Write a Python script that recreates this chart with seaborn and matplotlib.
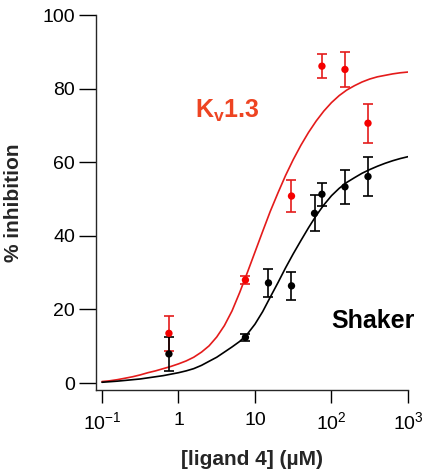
import numpy
import seaborn
import pandas
import matplotlib.pyplot as plt
from matplotlib.ticker import FixedLocator, FixedFormatter, NullLocator

# measured points (concentration in uM, % inhibition, error)
shaker_conc = [0.75, 7.5, 15, 30, 60, 75, 150, 300]
shaker_inhib = [7.9, 12.4, 27.2, 26.4, 46.1, 51.3, 53.3, 56.1]
shaker_err = [4.6, 1.0, 3.7, 3.9, 4.9, 3.1, 4.7, 5.3]

kv_conc = [0.75, 7.5, 30, 75, 150, 300]
kv_inhib = [13.5, 28.0, 50.8, 86.1, 85.2, 70.6]
kv_err = [4.7, 1.0, 4.4, 3.2, 4.8, 5.3]

# fitted curves
curve_conc = [0.1, 0.126, 0.158, 0.2, 0.251, 0.316, 0.398, 0.501, 0.631, 0.794,
              1, 1.26, 1.58, 2.0, 2.51, 3.16, 3.98, 5.01, 6.31, 7.94,
              10, 12.6, 15.8, 20.0, 25.1, 31.6, 39.8, 50.1, 63.1, 79.4,
              100, 126, 158, 200, 251, 316, 398, 501, 631, 794, 1000]
kv_curve = [0.4, 0.6, 0.9, 1.3, 1.7, 2.2, 2.8, 3.3, 3.9, 4.5,
            5.2, 6.0, 7.0, 8.4, 10.1, 12.5, 15.6, 19.6, 24.6, 30.0,
            35.6, 41.2, 46.6, 51.7, 56.4, 60.7, 64.6, 68.1, 71.2, 73.9,
            76.2, 78.1, 79.6, 80.8, 81.8, 82.6, 83.2, 83.6, 84.0, 84.3, 84.5]
shaker_curve = [0.2, 0.35, 0.5, 0.7, 0.9, 1.1, 1.4, 1.7, 2.0, 2.4,
                2.8, 3.3, 3.9, 4.8, 5.9, 7.0, 8.4, 9.8, 11.3, 13.3,
                16.0, 19.4, 23.3, 27.3, 31.3, 35.1, 38.7, 42.2, 45.5, 48.4,
                50.9, 52.9, 54.5, 55.8, 57.0, 58.0, 58.9, 59.7, 60.4, 61.0, 61.5]

xtick_vals = [0.1, 1, 10, 100, 1000]
xtick_labels = [r'$10^{-1}$', '1', '10', r'$10^{2}$', r'$10^{3}$']
ytick_vals = [0, 20, 40, 60, 80, 100]

red_pt = '#f50000'
red_line = '#e41b1b'
black = '#000000'

seaborn.set_style('ticks')
plt.rcParams['font.family'] = ['Liberation Sans', 'DejaVu Sans']
plt.rcParams['mathtext.fontset'] = 'custom'
plt.rcParams['mathtext.rm'] = 'Liberation Sans'
plt.rcParams['mathtext.bf'] = 'Liberation Sans:bold'
plt.rcParams['mathtext.it'] = 'Liberation Sans:italic'

curves = pandas.DataFrame({
    'conc': curve_conc * 2,
    'inhib': kv_curve + shaker_curve,
    'channel': ['Kv1.3'] * len(curve_conc) + ['Shaker'] * len(curve_conc),
})
points = pandas.DataFrame({
    'conc': kv_conc + shaker_conc,
    'inhib': kv_inhib + shaker_inhib,
    'channel': ['Kv1.3'] * len(kv_conc) + ['Shaker'] * len(shaker_conc),
})

fig = plt.figure(figsize=(4.35, 4.70), dpi=100)
ax = fig.add_axes([96 / 435, 80 / 470, 312 / 435, 375 / 470])

seaborn.lineplot(data=curves, x='conc', y='inhib', hue='channel',
                 palette={'Kv1.3': red_line, 'Shaker': black},
                 linewidth=1.2, legend=False, ax=ax, zorder=2)

ax.errorbar(kv_conc, kv_inhib, yerr=kv_err, fmt='none', ecolor=red_line,
            elinewidth=1.2, capsize=3.6, capthick=1.2, zorder=3)
ax.errorbar(shaker_conc, shaker_inhib, yerr=shaker_err, fmt='none', ecolor=black,
            elinewidth=1.2, capsize=3.6, capthick=1.2, zorder=3)

seaborn.scatterplot(data=points, x='conc', y='inhib', hue='channel',
                    palette={'Kv1.3': red_pt, 'Shaker': black},
                    s=28, linewidth=0, legend=False, ax=ax, zorder=4)

ax.set_xscale('log')
ax.set_xlim(0.0835, 1000)
ax.set_ylim(-1.9, 100)
ax.xaxis.set_major_locator(FixedLocator(xtick_vals))
ax.xaxis.set_major_formatter(FixedFormatter(xtick_labels))
ax.xaxis.set_minor_locator(NullLocator())
ax.set_yticks(ytick_vals)

for side in ['top', 'right']:
    ax.spines[side].set_visible(False)
for side in ['left', 'bottom']:
    ax.spines[side].set_linewidth(1.0)
ax.tick_params(axis='both', direction='out', width=1.0, labelsize=14,
               color='black', labelcolor='black')
ax.tick_params(axis='y', length=12, pad=3)
ax.tick_params(axis='x', length=9.5, pad=6)

ax.set_xlabel('[ligand 4] (\u00b5M)', fontsize=15, fontweight='bold', labelpad=12)
ax.set_ylabel('% inhibition', fontsize=15, fontweight='bold', labelpad=14)

ax.text(1.65, 72.0, r'$\mathbf{K_{v}1.3}$', fontsize=18, color='#ee4422',
        ha='left', va='baseline')
ax.text(345, 15.0, 'Shaker', fontsize=18, fontweight='bold', color='black',
        ha='center', va='baseline')

fig.savefig('out.png', dpi=100)
